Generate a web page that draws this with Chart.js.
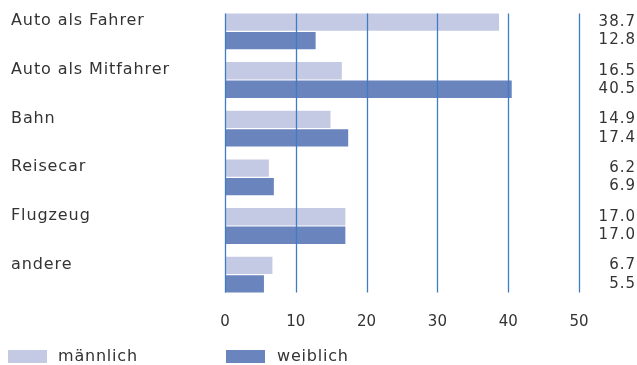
<!DOCTYPE html>
<html>
<head>
<meta charset="utf-8">
<script src="https://cdn.jsdelivr.net/npm/chart.js@4"></script>
<style>
  html, body { margin: 0; padding: 0; background: #fff; }
  #wrap { width: 637px; height: 365px; position: relative; }
</style>
</head>
<body>
<div id="wrap"><canvas id="chart"></canvas></div>
<script>
// --- Daten ---
const categories = ['Auto als Fahrer', 'Auto als Mitfahrer', 'Bahn', 'Reisecar', 'Flugzeug', 'andere'];
const maennlich = [38.7, 16.5, 14.9, 6.2, 17.0, 6.7];
const weiblich = [12.8, 40.5, 17.4, 6.9, 17.0, 5.5];
const seriesNames = ['männlich', 'weiblich'];
const xTicks = [0, 10, 20, 30, 40, 50];

const lightColor = '#c5cae4';
const darkColor = '#6a84be';
const gridColor = '#3f7cc2';
const textColor = '#333333';

// Gitterlinien, Beschriftungen und Legende selbst zeichnen
const decorPlugin = {
    id: 'decor',
    afterDatasetsDraw(chart) {
        const ctx = chart.ctx;
        const x = chart.scales.x;
        const m0 = chart.getDatasetMeta(0).data;
        const m1 = chart.getDatasetMeta(1).data;
        const top = m0[0].y - m0[0].height / 2;
        const last = m1[m1.length - 1];
        const bottom = last.y + last.height / 2;

        ctx.save();
        ctx.strokeStyle = gridColor;
        ctx.lineWidth = 1.3;
        xTicks.forEach(v => {
            const px = Math.round(x.getPixelForValue(v)) + 0.5;
            ctx.beginPath();
            ctx.moveTo(px, top);
            ctx.lineTo(px, bottom);
            ctx.stroke();
        });

        // Kategorien
        ctx.fillStyle = textColor;
        ctx.font = '16px "DejaVu Sans"';
        ctx.letterSpacing = '0.9px';
        ctx.textAlign = 'left';
        ctx.textBaseline = 'middle';
        categories.forEach((c, i) => {
            ctx.fillText(c, 11, m0[i].y - 1);
        });

        // Werte rechts
        ctx.font = '15px "DejaVu Sans"';
        ctx.letterSpacing = '1px';
        ctx.textAlign = 'right';
        categories.forEach((c, i) => {
            ctx.fillText(maennlich[i].toFixed(1), 636, m0[i].y);
            ctx.fillText(weiblich[i].toFixed(1), 636, m1[i].y);
        });

        // Legende
        const legendY = 350;
        [[8, lightColor, seriesNames[0], 58], [226, darkColor, seriesNames[1], 277]].forEach(([bx, col, name, tx]) => {
            ctx.fillStyle = col;
            ctx.fillRect(bx, legendY, 39, 13);
            ctx.fillStyle = textColor;
            ctx.textAlign = 'left';
            ctx.font = '16px "DejaVu Sans"';
            ctx.letterSpacing = '0.8px';
            ctx.fillText(name, tx, legendY + 7);
        });
        ctx.restore();
    }
};

const chart = new Chart(document.getElementById('chart'), {
    type: 'bar',
    data: {
        labels: categories,
        datasets: [{
            label: seriesNames[0],
            data: maennlich,
            backgroundColor: lightColor,
            barPercentage: 0.94,
            categoryPercentage: 0.76
        }, {
            label: seriesNames[1],
            data: weiblich,
            backgroundColor: darkColor,
            barPercentage: 0.94,
            categoryPercentage: 0.76
        }]
    },
    options: {
        indexAxis: 'y',
        responsive: true,
        maintainAspectRatio: false,
        animation: false,
        layout: { padding: { left: 225, right: 58, top: 7, bottom: 26 } },
        plugins: {
            legend: { display: false },
            tooltip: { enabled: false }
        },
        scales: {
            x: {
                min: 0,
                max: 50,
                afterBuildTicks: (s) => { s.ticks = xTicks.map(v => ({ value: v })); },
                grid: { display: false },
                border: { display: false },
                ticks: {
                    color: textColor,
                    padding: 6,
                    font: { family: 'DejaVu Sans', size: 15 }
                },
                afterFit: (s) => { s.height = 40; }
            },
            y: {
                display: false
            }
        }
    },
    plugins: [decorPlugin]
});
</script>
</body>
</html>
